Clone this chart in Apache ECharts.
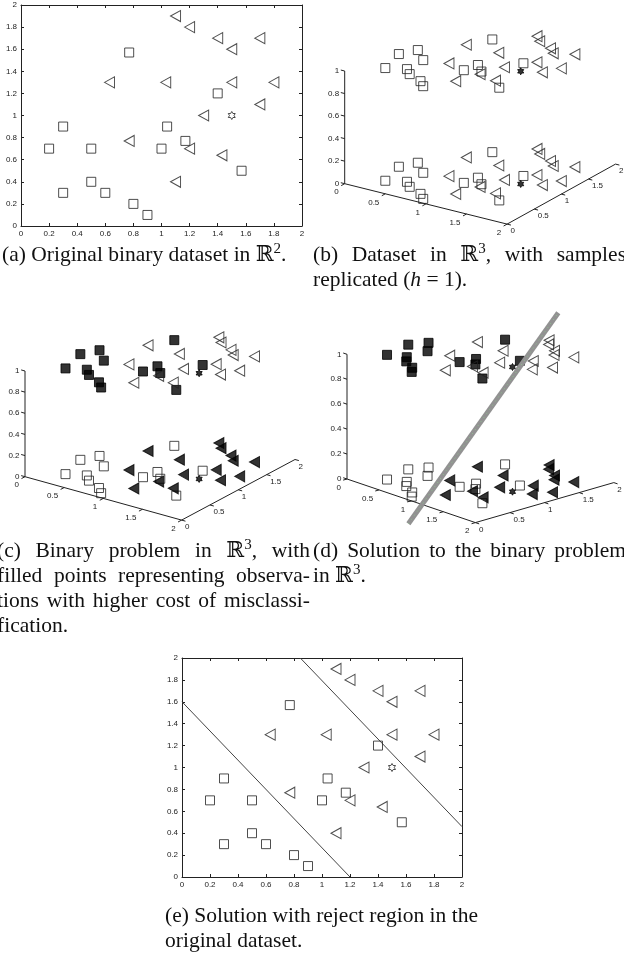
<!DOCTYPE html>
<html><head><meta charset="utf-8">
<script src="https://cdn.jsdelivr.net/npm/echarts@6/dist/echarts.min.js"></script>
<style>html,body{margin:0;padding:0;background:#fff}#c{width:624px;height:953px}</style>
</head><body><div id="c"></div>
<script>
// ---------------- data ----------------
const squares = [[0.2,0.7],[0.3,0.9],[0.3,0.3],[0.5,0.7],[0.5,0.4],[0.6,0.3],[0.77,1.57],[0.8,0.2],[0.9,0.1],[1.0,0.7],[1.04,0.9],[1.17,0.77],[1.4,1.2],[1.57,0.5]];
const triangles = [[0.63,1.3],[0.77,0.77],[1.03,1.3],[1.1,1.9],[1.2,1.8],[1.1,0.4],[1.2,0.7],[1.3,1.0],[1.4,1.7],[1.5,1.6],[1.5,1.3],[1.43,0.64],[1.7,1.7],[1.8,1.3],[1.7,1.1]];
const unknownPoint = [[1.5,1.0]];
const layerLow = 0, layerHigh = 1;          // replication height h = 1
const rejectLow = [[0,1.6],[1.2,0]];       // boundary lines of the reject region
const rejectHigh = [[0.845,2],[2,0.46]];
const planeEnds = [[0.59,0.34,-0.31],[2.03,1.17,1.5]];  // separating plane, seen edge-on
const ticksXY3d = [0,0.5,1,1.5,2];
const ticksZ3d = [0,0.2,0.4,0.6,0.8,1];
const captions = [
  {x0:2,   x1:null, y:255, lines:['(a) Original binary dataset in ℝ^2.']},
  {x0:313, x1:626,  y:255, lines:['(b) Dataset in ℝ^3, with samples','replicated (*h* = 1).']},
  {x0:-3,  x1:310,  y:551, lines:['(c) Binary problem in ℝ^3, with','filled points representing observa-','tions with higher cost of misclassi-','fication.']},
  {x0:313, x1:626,  y:551, lines:['(d) Solution to the binary problem','in ℝ^3.']},
  {x0:165, x1:478,  y:916, lines:['(e) Solution with reject region in the','original dataset.']}
];

// ---------------- styles ----------------
const SANS = '"Liberation Sans", Arial, sans-serif';
const SERIF = '"Liberation Serif", "Times New Roman", "DejaVu Serif", serif';
const FS = 21.5, LINE = 25;
const INK = '#222';
const hollow = {color:'rgba(0,0,0,0)', borderColor:INK, borderWidth:1};
const filled = {color:'#000', borderColor:'#000', borderWidth:1};
function hexagram(){
  let d='path://';
  for(let k=0;k<12;k++){
    const a=(-90+30*k)*Math.PI/180, r=(k%2===0)?1:1/Math.sqrt(3);
    d+=(k?'L':'M')+(50+50*r*Math.cos(a)).toFixed(2)+' '+(50+50*r*Math.sin(a)).toFixed(2);
  }
  return d+'Z';
}
const STAR = hexagram();

// grids: 0 = (a), 1 = (e), 2 = (b), 3 = (c), 4 = (d)
const grids = [
  {left:21, top:5, width:281, height:221},
  {left:182, top:658, width:280, height:219},
  {left:312, top:0, width:312, height:240},
  {left:0, top:290, width:312, height:245},
  {left:312, top:290, width:312, height:245}
];
const views = {
  2:{ox:344.7, oy:183.7, ex:[81.2,20.2], ey:[54.2,-30], ez:112.7},
  3:{ox:25,    oy:476.7, ex:[78.3,21.7], ey:[56.7,-30.3], ez:105.7},
  4:{ox:347,   oy:479,   ex:[64.2,21.8], ey:[69.2,-20], ez:124.7}
};
function project(gi,x,y,z){
  const v=views[gi], g=grids[gi];
  return [v.ox-g.left + x*v.ex[0] + y*v.ey[0], v.oy-g.top + x*v.ex[1] + y*v.ey[1] - z*v.ez];
}
const fmt = v => String(+(+v).toFixed(2));

const xAxes=[], yAxes=[], series=[];
// ----- 2D panels -----
[0,1].forEach(gi=>{
  const base = {type:'value', gridIndex:gi, min:0, max:2, interval:0.2, splitLine:{show:false},
    axisLine:{show:true, onZero:false, lineStyle:{color:INK, width:1}},
    axisTick:{show:true, inside:true, length:3, lineStyle:{color:INK, width:1}}};
  const lab = {show:true, fontSize:8, fontFamily:SANS, color:INK, formatter:fmt, showMinLabel:true, showMaxLabel:true};
  xAxes.push(Object.assign({}, base, {position:'bottom', axisLabel:Object.assign({margin:4}, lab)}));
  xAxes.push(Object.assign({}, base, {position:'top', axisLabel:{show:false}}));
  yAxes.push(Object.assign({}, base, {position:'left', axisLabel:Object.assign({margin:4}, lab)}));
  yAxes.push(Object.assign({}, base, {position:'right', axisLabel:{show:false}}));
  const xi = xAxes.length-2, yi = yAxes.length-2;
  series.push({type:'scatter', xAxisIndex:xi, yAxisIndex:yi, data:squares, symbol:'rect', symbolSize:9, itemStyle:hollow, silent:true, z:3});
  series.push({type:'scatter', xAxisIndex:xi, yAxisIndex:yi, data:triangles, symbol:'triangle', symbolSize:[11,10], symbolRotate:90, itemStyle:hollow, silent:true, z:3});
  series.push({type:'scatter', xAxisIndex:xi, yAxisIndex:yi, data:unknownPoint, symbol:STAR, symbolKeepAspect:true, symbolSize:8, itemStyle:hollow, silent:true, z:3});
  if(gi===1){
    [rejectLow, rejectHigh].forEach(l=>series.push({type:'line', xAxisIndex:xi, yAxisIndex:yi, data:l, symbol:'none', lineStyle:{color:'#444', width:1}, silent:true, z:2}));
  }
});
// ----- 3D panels -----
[2,3,4].forEach(gi=>{
  const g=grids[gi];
  xAxes.push({type:'value', gridIndex:gi, min:0, max:g.width, show:false});
  yAxes.push({type:'value', gridIndex:gi, min:0, max:g.height, inverse:true, show:false});
  const xi=xAxes.length-1, yi=yAxes.length-1;
  const v=views[gi];
  const unit=(p)=>{const n=Math.hypot(p[0],p[1]); return [p[0]/n,p[1]/n];};
  const ux=unit(v.ex), uy=unit(v.ey);
  series.push({type:'custom', xAxisIndex:xi, yAxisIndex:yi, data:[0], silent:true, z:1, clip:false,
    renderItem:(params, api)=>{
      const P=(x,y,z)=>api.coord(project(gi,x,y,z));
      const ch=[];
      const seg=(a,b)=>ch.push({type:'line', shape:{x1:a[0],y1:a[1],x2:b[0],y2:b[1]}, style:{stroke:INK, lineWidth:1}});
      const txt=(p,t,al)=>ch.push({type:'text', x:p[0], y:p[1], style:{text:t, font:'8px '+SANS, fill:INK, align:al, verticalAlign:'middle', textAlign:al, textVerticalAlign:'middle'}});
      seg(P(0,0,0),P(0,0,1)); seg(P(0,0,0),P(2,0,0)); seg(P(2,0,0),P(2,2,0));
      ticksZ3d.forEach(t=>{const p=P(0,0,t); seg(p,[p[0]-4*ux[0],p[1]-4*ux[1]]); txt([p[0]-5.5,p[1]],fmt(t),'right');});
      ticksXY3d.forEach(t=>{
        const p=P(t,0,0); seg(p,[p[0]-4*uy[0],p[1]-4*uy[1]]); txt([p[0]-6,p[1]+8.5],fmt(t),'right');
        const q=P(2,t,0); seg(q,[q[0]+4*ux[0],q[1]+4*ux[1]]); txt([q[0]+3.5,q[1]+7],fmt(t),'left');
      });
      return {type:'group', children:ch};
    }});
  const proj=(pts,h)=>pts.map(p=>project(gi,p[0],p[1],h));
  const highStyleSq = gi===2 ? hollow : filled;
  const lowStyleTri = gi===2 ? hollow : filled;
  const layers=[[layerHigh, highStyleSq, hollow],[layerLow, hollow, lowStyleTri]];
  layers.forEach(([h,sqS,trS])=>{
    series.push({type:'scatter', xAxisIndex:xi, yAxisIndex:yi, data:proj(squares,h), symbol:'rect', symbolSize:9, itemStyle:sqS, silent:true, z:2});
    series.push({type:'scatter', xAxisIndex:xi, yAxisIndex:yi, data:proj(triangles,h), symbol:'triangle', symbolSize:[11,10], symbolRotate:90, itemStyle:trS, silent:true, z:2});
    series.push({type:'scatter', xAxisIndex:xi, yAxisIndex:yi, data:proj(unknownPoint,h), symbol:STAR, symbolKeepAspect:true, symbolSize:7, itemStyle:filled, silent:true, z:2});
  });
  if(gi===4){
    const band=planeEnds.map(p=>project(gi,p[0],p[1],p[2]));
    series.push({type:'line', xAxisIndex:xi, yAxisIndex:yi, data:band, symbol:'none', lineStyle:{color:'#929292', width:5}, silent:true, z:4, clip:false});
    series.push({type:'line', xAxisIndex:xi, yAxisIndex:yi, data:band, symbol:'none', lineStyle:{color:'#8fcf8f', width:1, type:[1,4], opacity:0.8}, silent:true, z:5, clip:false});
  }
});

// ----- captions (justified like the typeset page) -----
const mctx=document.createElement('canvas').getContext('2d');
function segs(word){
  const out=[]; const re=/\^(\d)|\*([^*]+)\*|([^^*]+)/g; let m;
  while((m=re.exec(word))){
    if(m[1]) out.push({text:m[1], size:FS*0.7, italic:false, dy:-0.27*FS});
    else if(m[2]) out.push({text:m[2], size:FS, italic:true, dy:0});
    else out.push({text:m[3], size:FS, italic:false, dy:0});
  }
  return out;
}
const fontOf=s=>(s.italic?'italic ':'')+s.size+'px '+SERIF;
const widthOf=s=>{mctx.font=fontOf(s); return mctx.measureText(s.text).width;};
const graphics=[];
captions.forEach(c=>{
  c.lines.forEach((ln,i)=>{
    const words=ln.split(' ').map(w=>{const ss=segs(w); ss.forEach(s=>s.w=widthOf(s)); return {ss, w:ss.reduce((a,s)=>a+s.w,0)};});
    const sp=widthOf({text:' ', size:FS, italic:false});
    const total=words.reduce((a,w)=>a+w.w,0);
    const justify=c.x1!=null && i<c.lines.length-1 && words.length>1;
    const gap=justify?(c.x1-c.x0-total)/(words.length-1):sp;
    let x=c.x0; const y=c.y+i*LINE;
    words.forEach(w=>{
      w.ss.forEach(s=>{
        graphics.push({type:'text', x:x, y:y+s.dy, silent:true, style:{text:s.text, font:fontOf(s), fill:'#111', align:'left', verticalAlign:'middle', textAlign:'left', textVerticalAlign:'middle'}});
        x+=s.w;
      });
      x+=gap;
    });
  });
});

const chart=echarts.init(document.getElementById('c'), null, {renderer:'canvas'});
chart.setOption({animation:false, backgroundColor:'#fff', grid:grids, xAxis:xAxes, yAxis:yAxes, series:series, graphic:graphics});
</script></body></html>
